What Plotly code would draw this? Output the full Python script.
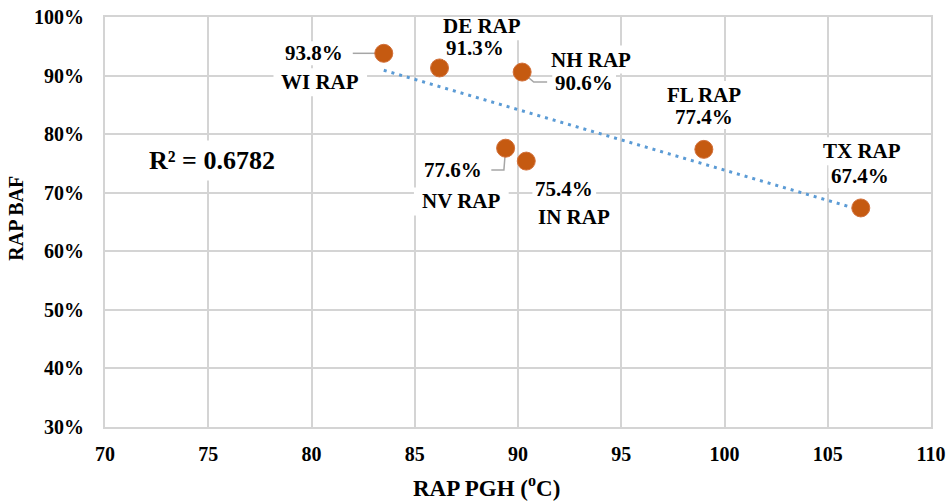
import numpy as np
import plotly.graph_objects as go

# RAP binder data: high PG temperature vs. binder availability factor
mix_names = ["WI RAP", "DE RAP", "NH RAP", "NV RAP", "IN RAP", "FL RAP", "TX RAP"]
rap_pgh = [83.5, 86.2, 90.2, 89.4, 90.4, 99.0, 106.6]      # deg C
rap_baf = [93.8, 91.3, 90.6, 77.6, 75.4, 77.4, 67.4]       # percent

x_ticks = [70, 75, 80, 85, 90, 95, 100, 105, 110]
y_ticks = [30, 40, 50, 60, 70, 80, 90, 100]

FONT = "Liberation Serif"
GRID = "#D4D4D4"
POINT = "#C55A11"
TREND = "#5B9BD5"
LEADER = "#A6A6A6"
LABEL_SIZE = 21

# label placement for each point: (text kind, dx, dy) in screen pixels
label_layout = {
    "WI RAP": [("val", -69.5, 0.0), ("name", -63.5, 29.0)],
    "DE RAP": [("name", 42.0, -41.8), ("val", 35.5, -20.3)],
    "NH RAP": [("name", 69.0, -12.5), ("val", 62.0, 11.0)],
    "NV RAP": [("val", -53.0, 21.7), ("name", -44.3, 53.2)],
    "IN RAP": [("val", 38.0, 28.3), ("name", 47.3, 56.3)],
    "FL RAP": [("name", 0.0, -54.3), ("val", 0.0, -32.3)],
    "TX RAP": [("name", 1.0, -56.7), ("val", -0.5, -31.7)],
}
# elbow leader lines (screen pixel offsets from the point)
leaders = {
    "WI RAP": [(0, 0), (-31, 0)],
    "NH RAP": [(0, 0), (11.6, 10), (25, 10)],
    "NV RAP": [(0, 0), (-1.7, 21.7), (-14.3, 21.7)],
}

# bold serif advance widths (em) used to size the white label backings
ADV = {" ": 0.25, ".": 0.25, "%": 1.0, "A": 0.722, "D": 0.722, "E": 0.667,
       "F": 0.611, "H": 0.778, "I": 0.389, "L": 0.667, "N": 0.722, "P": 0.611,
       "R": 0.722, "T": 0.667, "V": 0.722, "W": 1.0, "X": 0.722}


def text_width(s, size):
    return sum(ADV.get(c, 0.5) for c in s) * size


# linear trend line
xs = np.array(rap_pgh)
ys = np.array(rap_baf)
slope, intercept = np.polyfit(xs, ys, 1)
trend_x = np.array([xs.min(), xs.max()])
trend_y = slope * trend_x + intercept

fig = go.Figure()
fig.add_trace(go.Scatter(
    x=trend_x, y=trend_y, mode="lines",
    line=dict(color=TREND, width=3, dash="3px,5px"),
    hoverinfo="skip", showlegend=False,
))
fig.add_trace(go.Scatter(
    x=rap_pgh, y=rap_baf, mode="markers",
    marker=dict(color=POINT, size=18, line=dict(color="#D2703A", width=1)),
    text=mix_names, showlegend=False,
))


def bold(s):
    return f"<b>{s}</b>"


annotations = []
shapes = []
for name, px, py in zip(mix_names, rap_pgh, rap_baf):
    for kind, dx, dy in label_layout[name]:
        txt = name if kind == "name" else f"{py:.1f}%"
        # white backing behind the label text, hiding gridlines
        pad_x, half_h = (8, 14) if kind == "name" else (3, 12)
        half_w = text_width(txt, LABEL_SIZE) / 2 + pad_x
        shapes.append(dict(
            type="rect", xref="x", yref="y",
            xsizemode="pixel", ysizemode="pixel", xanchor=px, yanchor=py,
            x0=dx - half_w, x1=dx + half_w, y0=-dy - half_h, y1=-dy + half_h,
            fillcolor="white", line=dict(width=0), layer="above",
        ))
        annotations.append(dict(
            x=px, y=py, xref="x", yref="y", text=bold(txt), showarrow=False,
            xanchor="center", yanchor="middle",
            xshift=dx, yshift=-dy,
            font=dict(family=FONT, size=LABEL_SIZE, color="black"),
        ))

for name, pts in leaders.items():
    i = mix_names.index(name)
    path = "M" + " L".join(f"{dx},{-dy}" for dx, dy in pts)
    shapes.append(dict(
        type="path", path=path, xref="x", yref="y",
        xsizemode="pixel", ysizemode="pixel",
        xanchor=rap_pgh[i], yanchor=rap_baf[i],
        line=dict(color=LEADER, width=1.5), layer="below",
    ))

# R-squared box
annotations.append(dict(
    x=0.129, y=0.649, xref="paper", yref="paper",
    xanchor="center", yanchor="middle",
    text=bold("R² = 0.6782"), showarrow=False, bgcolor="white", borderpad=5,
    font=dict(family=FONT, size=26, color="black"),
))
# axis titles
annotations.append(dict(
    x=0.462, y=0, xref="paper", yref="paper", yshift=-59,
    xanchor="center", yanchor="middle",
    text=bold("RAP PGH (<sup>o</sup>C)"), showarrow=False,
    font=dict(family=FONT, size=23, color="black"),
))
annotations.append(dict(
    x=-0.108, y=0.51, xref="paper", yref="paper", textangle=-90,
    xanchor="center", yanchor="middle",
    text=bold("RAP BAF"), showarrow=False,
    font=dict(family=FONT, size=20, color="black"),
))

fig.update_layout(
    width=949, height=501,
    margin=dict(l=105, r=18, t=17, b=74, autoexpand=False),
    paper_bgcolor="white", plot_bgcolor="white",
    font=dict(family=FONT, color="black"),
    annotations=annotations, shapes=shapes,
)
fig.update_xaxes(
    range=[70, 110], tickvals=x_ticks, ticktext=[bold(t) for t in x_ticks],
    showgrid=True, gridcolor=GRID, gridwidth=2,
    showline=True, linecolor=GRID, linewidth=2, mirror=True,
    zeroline=False, ticklabelstandoff=8,
    tickfont=dict(family=FONT, size=20, color="black"),
)
fig.update_yaxes(
    range=[30, 100], tickvals=y_ticks, ticktext=[bold(f"{t}%") for t in y_ticks],
    showgrid=True, gridcolor=GRID, gridwidth=2,
    showline=True, linecolor=GRID, linewidth=2, mirror=True,
    zeroline=False, ticklabelstandoff=15,
    tickfont=dict(family=FONT, size=20, color="black"),
)

fig.write_html("out.html")
